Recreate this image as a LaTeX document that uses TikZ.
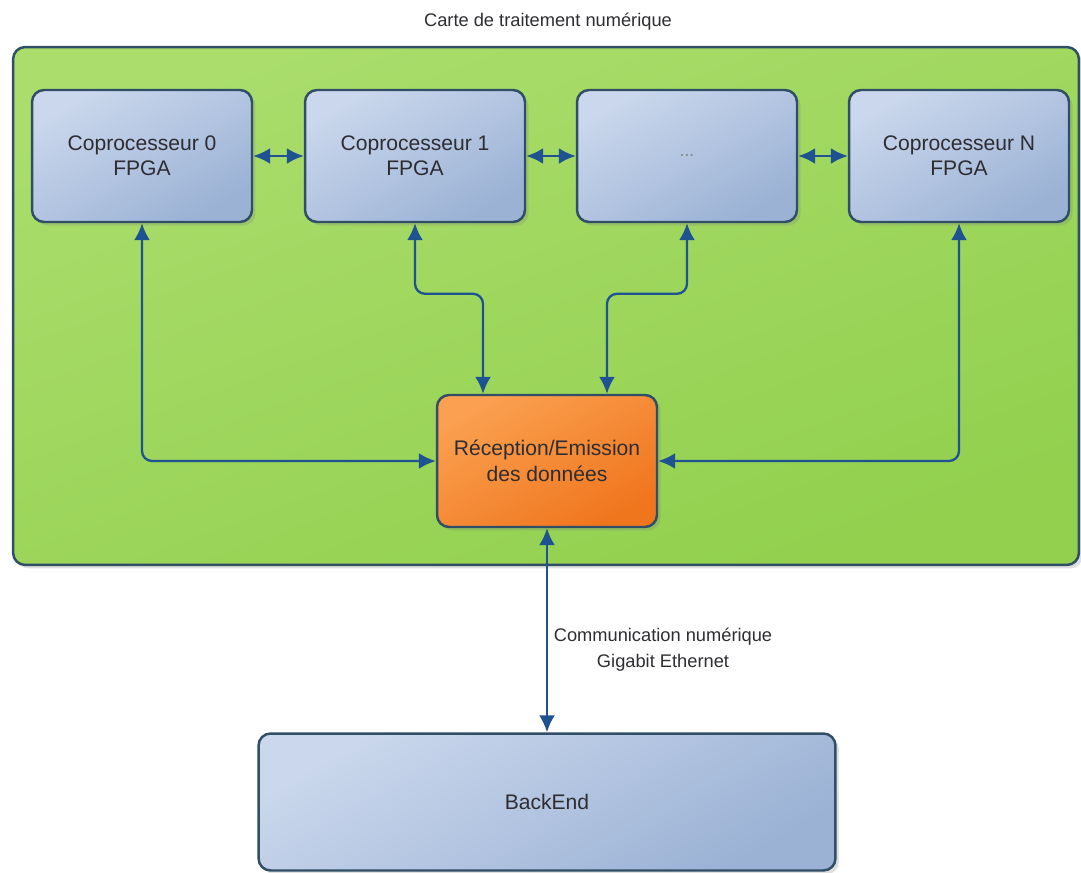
\documentclass[tikz,border=0pt]{standalone}
\usepackage{fontspec}
\setmainfont{Liberation Sans}
\usetikzlibrary{arrows.meta,shadows}

\definecolor{cardgreen}{RGB}{146,208,78}
\definecolor{cardgreenlt}{RGB}{170,221,108}
\definecolor{edgeblue}{RGB}{48,78,102}
\definecolor{boxblue}{RGB}{155,178,213}
\definecolor{boxbluelt}{RGB}{202,215,236}
\definecolor{boxorange}{RGB}{240,118,30}
\definecolor{boxorangelt}{RGB}{250,160,80}
\definecolor{linkblue}{RGB}{30,82,144}
\definecolor{txtgrey}{RGB}{45,45,50}

\begin{document}
\begin{tikzpicture}[x=0.02cm,y=-0.02cm,
  box/.style={draw=edgeblue,line width=1.4pt,rounded corners=0.24cm,
    minimum width=4.4cm,minimum height=2.64cm,align=center,text=txtgrey,
    font=\fontsize{12pt}{14.5pt}\selectfont,
    drop shadow={opacity=0.25,shadow xshift=2pt,shadow yshift=-2pt}},
  copro/.style={box,shading=axis,top color=boxbluelt,bottom color=boxblue,shading angle=30},
  link/.style={draw=linkblue,line width=1.3pt,rounded corners=0.2cm,
    {Latex[length=0.34cm,width=0.32cm]}-{Latex[length=0.34cm,width=0.32cm]}}]
\useasboundingbox (0,0) rectangle (1081,872);
% carte
\node[draw=edgeblue,line width=1.4pt,rounded corners=0.24cm,
  minimum width=21.32cm,minimum height=10.36cm,
  shading=axis,top color=cardgreenlt,bottom color=cardgreen,shading angle=20,
  drop shadow={opacity=0.25,shadow xshift=2pt,shadow yshift=-2pt}] (carte) at (546,306) {};
\node[text=txtgrey,font=\fontsize{10.4pt}{13pt}\selectfont] (titre) at (548,22) {Carte de traitement numérique};
% coprocesseurs
\node[copro] (cp0) at (142,156) {Coprocesseur 0\\FPGA};
\node[copro] (cp1) at (415,156) {Coprocesseur 1\\FPGA};
\node[copro] (cpx) at (687,156) {\textcolor{gray}{\fontsize{10pt}{10pt}\selectfont ...}};
\node[copro] (cpN) at (959,156) {Coprocesseur N\\FPGA};
% reception / emission
\node[box,shading=axis,top color=boxorangelt,bottom color=boxorange,shading angle=30] (rec) at (547,461) {Réception/Emission\\des données};
% backend
\node[copro,minimum width=11.54cm,minimum height=2.74cm] (back) at (547,802) {BackEnd};
% liens
\draw[link] (cp0) -- (cp1);
\draw[link] (cp1) -- (cpx);
\draw[link] (cpx) -- (cpN);
\draw[link] (cp0.south) |- (rec.west);
\draw[link] (cpN.south) |- (rec.east);
\draw[link] (cp1.south) |- ([xshift=-1.28cm,yshift=2cm]rec.north) -- ([xshift=-1.28cm]rec.north);
\draw[link] (cpx.south) |- ([xshift=1.2cm,yshift=2cm]rec.north) -- ([xshift=1.2cm]rec.north);
\draw[link] (rec) -- (back);
\node[align=center,text=txtgrey,font=\fontsize{10.4pt}{14.7pt}\selectfont] (eth) at (663,650) {Communication numérique\\Gigabit Ethernet};
\end{tikzpicture}
\end{document}
